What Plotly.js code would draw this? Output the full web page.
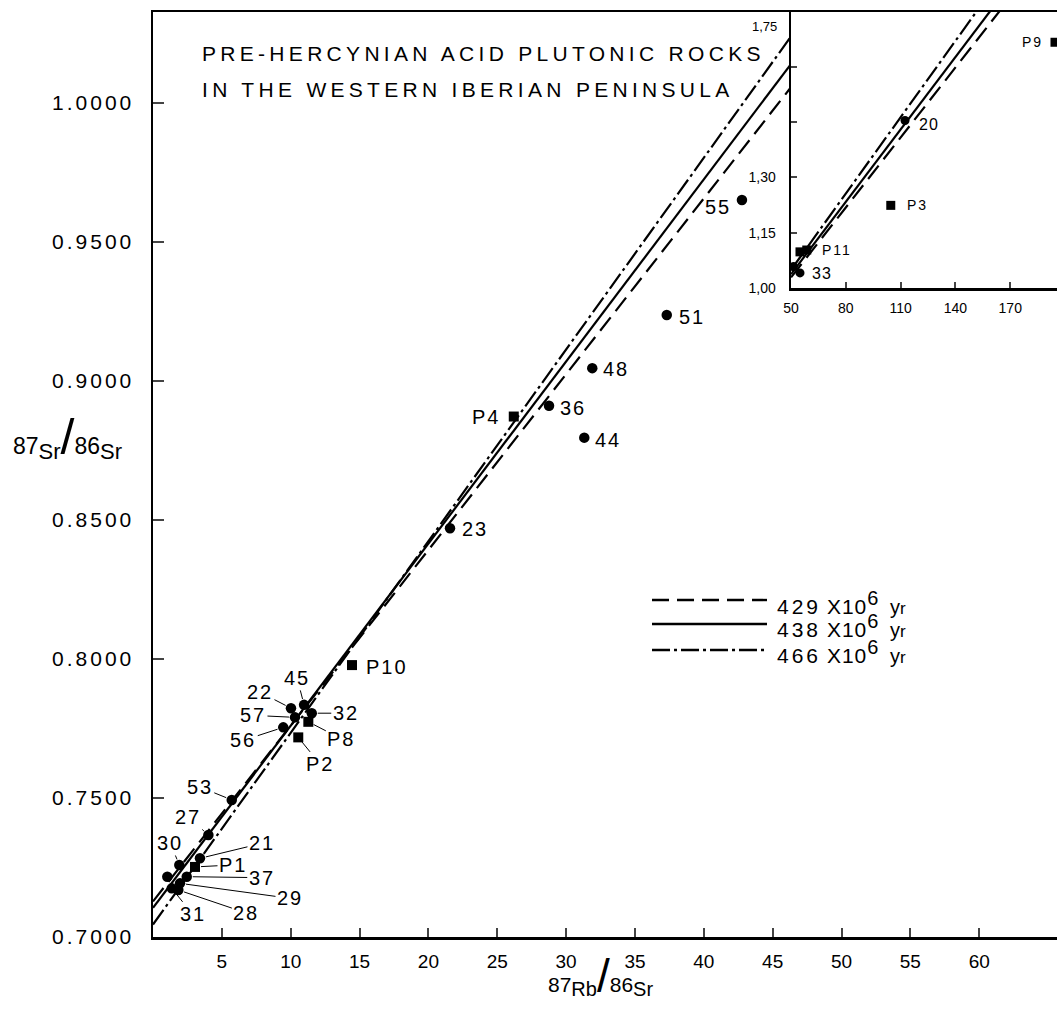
<!DOCTYPE html>
<html>
<head>
<meta charset="utf-8">
<script src="https://cdn.plot.ly/plotly-3.0.1.min.js"></script>
<style>html,body{margin:0;padding:0;background:#fff;}</style>
</head>
<body>
<div id="chart" style="width:1057px;height:1018px;"></div>
<script>
// ---------------- DATA ----------------
// Main plot: circles (samples) and squares (P samples)
const circleIds = ['55','51','48','36','44','23','22','45','57','56','32','53','27','30','21','37','29','31','28',''];
const circleRb  = [42.77,37.31,31.90,28.76,31.32,21.57,10.02,10.97,10.31,9.46,11.53,5.72,4.02,1.91,3.41,2.45,1.96,1.36,1.84,1.04];
const circleSr  = [0.9651,0.9237,0.9046,0.8911,0.8796,0.8470,0.7823,0.7835,0.7790,0.7754,0.7805,0.7493,0.7367,0.7259,0.7283,0.7217,0.7193,0.7175,0.7169,0.7217];

const squareIds = ['P4','P10','P8','P2','P1'];
const squareRb  = [26.20,14.45,11.28,10.55,3.05];
const squareSr  = [0.8872,0.7978,0.7774,0.7718,0.7252];

// Inset
const insetCircleIds = ['20','33',''];
const insetCircleRb  = [112.4,54.9,51.3];
const insetCircleSr  = [1.454,1.041,1.058];
const insetSquareIds = ['P9','P3','P11',''];
const insetSquareRb  = [194.5,104.6,58.6,54.9];
const insetSquareSr  = [1.666,1.224,1.103,1.098];

// Isochrons (end points)
const isoAges = ['429','438','466'];
const isoMainX = [0, 46.26];
const isoMainY = [[0.7128,1.0052],[0.7105,1.0135],[0.7045,1.0234]];
const isoInsetX = [50, 170];
const isoInsetY = [[1.0288,1.7872],[1.0375,1.8221],[1.0492,1.8765]];

// Tick labels
const mainXTicks = [5,10,15,20,25,30,35,40,45,50,55,60];
const mainYTicks = [0.70,0.75,0.80,0.85,0.90,0.95,1.00];
const mainYTickText = ['0.7000','0.7500','0.8000','0.8500','0.9000','0.9500','1.0000'];
const insetXTicks = [50,80,110,140,170];
const insetYTicks = [1.00,1.15,1.30,1.45,1.60,1.75];
const insetYTickText = ['1,00','1,15','1,30','','',''];

// ---------------- STYLE / LAYOUT CONFIG ----------------
const FONT = 'Liberation Sans, Arial, sans-serif';
const dashStyles = ['17px,8px', 'solid', '18px,4px,3px,4px'];
const sp = (t, n) => "<span style='letter-spacing:" + n + "px'>" + t + "</span>";

// label placement: [mode, dx, dy]  'L' = leader line (ax,ay), 'R' right of point, 'W' left of point
const labelPlace = {
  '55':['W',-9,-7], '51':['R',10,-2], '48':['R',9,-1], '36':['R',9,-2], '44':['R',9,-2],
  '23':['R',10,-1], 'P4':['W',-12,0], 'P10':['R',12,-2],
  '45':['L',-7,-27], '22':['L',-31,-16], '57':['L',-42,-2], '56':['L',-40,13],
  '32':['L',34,0], 'P8':['L',33,17], 'P2':['L',22,27],
  '53':['L',-32,-13], '27':['L',-20,-18], '30':['L',-9,-22],
  '21':['L',62,-15], 'P1':['L',38,-2], '37':['L',75,1], '29':['L',110,15],
  '28':['L',68,23], '31':['L',21,26]
};
const insetPlace = {
  'P9':['W',-10,0], '20':['R',12,-4], 'P3':['R',14,0], 'P11':['R',13,0], '33':['R',10,-1]
};

const traces = [];
for (let i=0;i<3;i++){
  traces.push({x:isoMainX, y:isoMainY[i], mode:'lines', name:isoAges[i], xaxis:'x', yaxis:'y',
    line:{color:'#000', width:2.2, dash:dashStyles[i]}, showlegend:false, hoverinfo:'skip'});
}
for (let i=0;i<3;i++){
  traces.push({x:isoInsetX, y:isoInsetY[i], mode:'lines', xaxis:'x2', yaxis:'y2',
    line:{color:'#000', width:2.2, dash:dashStyles[i]}, showlegend:false, hoverinfo:'skip'});
}
traces.push({x:circleRb, y:circleSr, mode:'markers', xaxis:'x', yaxis:'y', showlegend:false,
  marker:{symbol:'circle', size:10.5, color:'#000'}});
traces.push({x:squareRb, y:squareSr, mode:'markers', xaxis:'x', yaxis:'y', showlegend:false,
  marker:{symbol:'square', size:10, color:'#000'}});
traces.push({x:insetCircleRb, y:insetCircleSr, mode:'markers', xaxis:'x2', yaxis:'y2', showlegend:false,
  marker:{symbol:'circle', size:9, color:'#000'}});
traces.push({x:insetSquareRb, y:insetSquareSr, mode:'markers', xaxis:'x2', yaxis:'y2', showlegend:false,
  marker:{symbol:'square', size:9, color:'#000'}});

const annotations = [];
function addLabels(ids, xs, ys, place, xr, yr, size, ls){
  ids.forEach((id, i) => {
    if (!id || !place[id]) return;
    const p = place[id];
    if (p[0] === 'L') {
      annotations.push({x:xs[i], y:ys[i], xref:xr, yref:yr, text:sp(id, ls), showarrow:true,
        arrowhead:0, arrowwidth:1, arrowcolor:'#000', ax:p[1], ay:p[2], standoff:6,
        font:{family:FONT, size:size, color:'#000'}, borderpad:1});
    } else {
      annotations.push({x:xs[i], y:ys[i], xref:xr, yref:yr, text:sp(id, ls), showarrow:false,
        xanchor: p[0]==='R' ? 'left' : 'right', xshift:p[1], yshift:p[2],
        font:{family:FONT, size:size, color:'#000'}});
    }
  });
}
addLabels(circleIds, circleRb, circleSr, labelPlace, 'x', 'y', 20, 2);
addLabels(squareIds, squareRb, squareSr, labelPlace, 'x', 'y', 20, 2);
addLabels(insetCircleIds, insetCircleRb, insetCircleSr, insetPlace, 'x2', 'y2', 16, 1);
addLabels(insetSquareIds, insetSquareRb, insetSquareSr, insetPlace, 'x2', 'y2', 14, 2);

// title text
annotations.push({xref:'paper', yref:'paper', x:0.052, y:0.9546, xanchor:'left', yanchor:'middle', showarrow:false,
  text:sp('PRE-HERCYNIAN ACID PLUTONIC ROCKS', 4.3), font:{family:FONT, size:21, color:'#000'}});
annotations.push({xref:'paper', yref:'paper', x:0.052, y:0.9157, xanchor:'left', yanchor:'middle', showarrow:false,
  text:sp('IN THE WESTERN IBERIAN PENINSULA', 4.3), font:{family:FONT, size:21, color:'#000'}});
// inset 1,75 label
annotations.push({xref:'paper', yref:'paper', x:0.692, y:0.984, xanchor:'right', yanchor:'middle', showarrow:false,
  text:'1,75', font:{family:FONT, size:13, color:'#000'}});
// axis titles
const big = (t, s) => "<span style='font-size:" + s + "px'>" + t + "</span>";
annotations.push({xref:'paper', yref:'paper', x:-0.095, y:0.540, xanchor:'center', yanchor:'middle', showarrow:false,
  text:"87<sub>" + big('Sr', 22) + "</sub>" + big('/', 50) + "86<sub>" + big('Sr', 22) + "</sub>",
  font:{family:FONT, size:23, color:'#000'}});
annotations.push({xref:'paper', yref:'paper', x:0.495, y:-0.042, xanchor:'center', yanchor:'middle', showarrow:false,
  text:"87<sub>" + big('Rb', 20) + "</sub>" + big('/', 46) + "86<sub>" + big('Sr', 20) + "</sub>",
  font:{family:FONT, size:21, color:'#000'}});

// hand-drawn style legend
const legendRowsY = [0.3643, 0.3384, 0.3103];
const shapes = [];
for (let i=0;i<3;i++){
  shapes.push({type:'line', xref:'paper', yref:'paper', x0:0.552, x1:0.6792, y0:legendRowsY[i], y1:legendRowsY[i],
    line:{color:'#000', width:2.4, dash:dashStyles[i]}});
  annotations.push({xref:'paper', yref:'paper', x:0.688, y:legendRowsY[i], xanchor:'left', yanchor:'middle',
    yshift:-2, showarrow:false,
    text:sp(isoAges[i], 3) + ' ' + sp('X10', 1) + "<sup>" + big('6', 20) + "</sup>  " + big('y', 20) + big('r', 17),
    font:{family:FONT, size:21, color:'#000'}});
}

const layout = {
  width:1057, height:1018,
  margin:{l:153, r:0, t:12, b:81},
  paper_bgcolor:'#fff', plot_bgcolor:'#fff',
  showlegend:false,
  xaxis:{domain:[0,1], range:[0,65.65], tickvals:mainXTicks, ticks:'inside', ticklen:9, tickwidth:2,
    showline:true, linewidth:2.5, linecolor:'#000', mirror:true, showgrid:false, zeroline:false,
    tickfont:{family:FONT, size:19, color:'#000'}, ticklabelstandoff:6, anchor:'y'},
  yaxis:{domain:[0,1], range:[0.7,1.0327], tickvals:mainYTicks, ticktext:mainYTickText.map(t => sp(t, 3)), ticks:'inside',
    ticklen:11, tickwidth:2, showline:true, linewidth:2.5, linecolor:'#000', mirror:true, showgrid:false,
    zeroline:false, tickfont:{family:FONT, size:21, color:'#000'}, ticklabelstandoff:12, anchor:'x'},
  xaxis2:{domain:[0.7058,1], range:[50,195.6], tickvals:insetXTicks, ticks:'inside', ticklen:6, tickwidth:2,
    showline:true, linewidth:2.5, linecolor:'#000', mirror:true, showgrid:false, zeroline:false,
    tickfont:{family:FONT, size:14, color:'#000'}, ticklabelstandoff:6, anchor:'y2'},
  yaxis2:{domain:[0.7016,1], range:[1.0,1.748], tickvals:insetYTicks, ticktext:insetYTickText, ticks:'inside',
    ticklen:6, tickwidth:2, showline:true, linewidth:2.5, linecolor:'#000', mirror:true, showgrid:false,
    zeroline:false, tickfont:{family:FONT, size:14, color:'#000'}, ticklabelstandoff:10, anchor:'x2'},
  annotations:annotations,
  shapes:shapes
};

Plotly.newPlot('chart', traces, layout, {displayModeBar:false, staticPlot:true});
</script>
</body>
</html>
